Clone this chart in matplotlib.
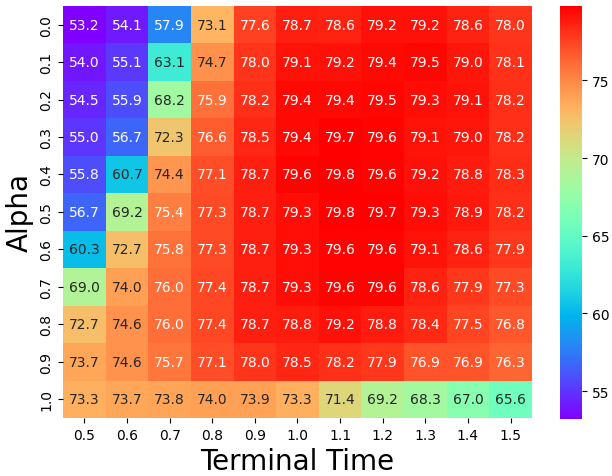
import matplotlib

matplotlib.use("Agg")
import matplotlib.pyplot as plt
import numpy as np
import seaborn as sns

alphas = ["0.0", "0.1", "0.2", "0.3", "0.4", "0.5", "0.6", "0.7", "0.8", "0.9", "1.0"]
times = ["0.5", "0.6", "0.7", "0.8", "0.9", "1.0", "1.1", "1.2", "1.3", "1.4", "1.5"]

row_00 = [53.2, 54.1, 57.9, 73.1, 77.6, 78.7, 78.6, 79.2, 79.2, 78.6, 78.0]
row_01 = [54.0, 55.1, 63.1, 74.7, 78.0, 79.1, 79.2, 79.4, 79.5, 79.0, 78.1]
row_02 = [54.5, 55.9, 68.2, 75.9, 78.2, 79.4, 79.4, 79.5, 79.3, 79.1, 78.2]
row_03 = [55.0, 56.7, 72.3, 76.6, 78.5, 79.4, 79.7, 79.6, 79.1, 79.0, 78.2]
row_04 = [55.8, 60.7, 74.4, 77.1, 78.7, 79.6, 79.8, 79.6, 79.2, 78.8, 78.3]
row_05 = [56.7, 69.2, 75.4, 77.3, 78.7, 79.3, 79.8, 79.7, 79.3, 78.9, 78.2]
row_06 = [60.3, 72.7, 75.8, 77.3, 78.7, 79.3, 79.6, 79.6, 79.1, 78.6, 77.9]
row_07 = [69.0, 74.0, 76.0, 77.4, 78.7, 79.3, 79.6, 79.6, 78.6, 77.9, 77.3]
row_08 = [72.7, 74.6, 76.0, 77.4, 78.7, 78.8, 79.2, 78.8, 78.4, 77.5, 76.8]
row_09 = [73.7, 74.6, 75.7, 77.1, 78.0, 78.5, 78.2, 77.9, 76.9, 76.9, 76.3]
row_10 = [73.3, 73.7, 73.8, 74.0, 73.9, 73.3, 71.4, 69.2, 68.3, 67.0, 65.6]

acc = np.array([row_00, row_01, row_02, row_03, row_04, row_05,
                row_06, row_07, row_08, row_09, row_10])


def main() -> None:
    fig = plt.figure(figsize=(6.12, 4.77), dpi=100)
    ax = fig.add_axes([0.103, 0.1216, 0.766, 0.864])
    cax = fig.add_axes([0.915, 0.1195, 0.036, 0.866])

    sns.heatmap(acc, ax=ax, cbar_ax=cax, cmap="rainbow", annot=True, fmt=".1f",
                annot_kws={"size": 10}, xticklabels=times, yticklabels=alphas)

    ax.set_xlabel("Terminal Time", fontsize=20)
    ax.set_ylabel("Alpha", fontsize=20)
    ax.tick_params(labelsize=10)
    plt.setp(ax.get_yticklabels(), rotation=90, va="center")
    plt.setp(ax.get_xticklabels(), rotation=0)
    cax.tick_params(labelsize=10)

    fig.savefig("out.png", dpi=100)
    plt.close(fig)


if __name__ == "__main__":
    main()
